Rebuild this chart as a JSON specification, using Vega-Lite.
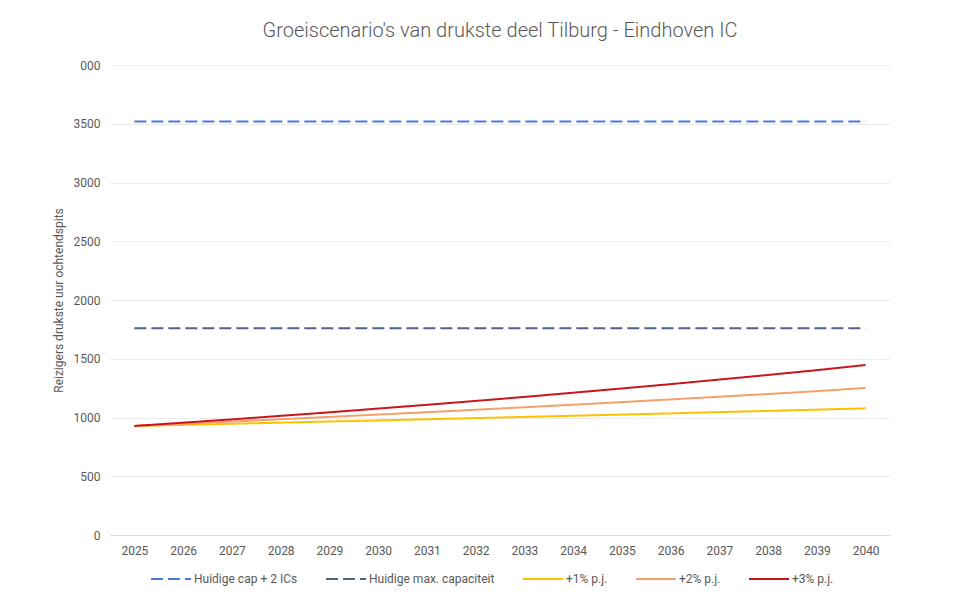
{
  "$schema": "https://vega.github.io/schema/vega-lite/v6.json",
  "width": 780,
  "height": 470,
  "autosize": {"type": "none"},
  "padding": {"left": 110, "top": 65, "right": 78, "bottom": 63},
  "background": "white",
  "config": {
    "font": "Roboto",
    "view": {"stroke": null},
    "axis": {"labelColor": "#595959", "labelFontSize": 12, "titleColor": "#595959", "labelFont": "Roboto"}
  },
  "title": {
    "text": "Groeiscenario's van drukste deel Tilburg - Eindhoven IC",
    "fontSize": 20,
    "fontWeight": 300,
    "color": "#595959",
    "anchor": "middle",
    "offset": 18
  },
  "datasets": {
    "d": [
      {"jaar": "2025", "serie": "Huidige cap + 2 ICs", "waarde": 3520},
      {"jaar": "2026", "serie": "Huidige cap + 2 ICs", "waarde": 3520},
      {"jaar": "2027", "serie": "Huidige cap + 2 ICs", "waarde": 3520},
      {"jaar": "2028", "serie": "Huidige cap + 2 ICs", "waarde": 3520},
      {"jaar": "2029", "serie": "Huidige cap + 2 ICs", "waarde": 3520},
      {"jaar": "2030", "serie": "Huidige cap + 2 ICs", "waarde": 3520},
      {"jaar": "2031", "serie": "Huidige cap + 2 ICs", "waarde": 3520},
      {"jaar": "2032", "serie": "Huidige cap + 2 ICs", "waarde": 3520},
      {"jaar": "2033", "serie": "Huidige cap + 2 ICs", "waarde": 3520},
      {"jaar": "2034", "serie": "Huidige cap + 2 ICs", "waarde": 3520},
      {"jaar": "2035", "serie": "Huidige cap + 2 ICs", "waarde": 3520},
      {"jaar": "2036", "serie": "Huidige cap + 2 ICs", "waarde": 3520},
      {"jaar": "2037", "serie": "Huidige cap + 2 ICs", "waarde": 3520},
      {"jaar": "2038", "serie": "Huidige cap + 2 ICs", "waarde": 3520},
      {"jaar": "2039", "serie": "Huidige cap + 2 ICs", "waarde": 3520},
      {"jaar": "2040", "serie": "Huidige cap + 2 ICs", "waarde": 3520},
      {"jaar": "2025", "serie": "Huidige max. capaciteit", "waarde": 1760},
      {"jaar": "2026", "serie": "Huidige max. capaciteit", "waarde": 1760},
      {"jaar": "2027", "serie": "Huidige max. capaciteit", "waarde": 1760},
      {"jaar": "2028", "serie": "Huidige max. capaciteit", "waarde": 1760},
      {"jaar": "2029", "serie": "Huidige max. capaciteit", "waarde": 1760},
      {"jaar": "2030", "serie": "Huidige max. capaciteit", "waarde": 1760},
      {"jaar": "2031", "serie": "Huidige max. capaciteit", "waarde": 1760},
      {"jaar": "2032", "serie": "Huidige max. capaciteit", "waarde": 1760},
      {"jaar": "2033", "serie": "Huidige max. capaciteit", "waarde": 1760},
      {"jaar": "2034", "serie": "Huidige max. capaciteit", "waarde": 1760},
      {"jaar": "2035", "serie": "Huidige max. capaciteit", "waarde": 1760},
      {"jaar": "2036", "serie": "Huidige max. capaciteit", "waarde": 1760},
      {"jaar": "2037", "serie": "Huidige max. capaciteit", "waarde": 1760},
      {"jaar": "2038", "serie": "Huidige max. capaciteit", "waarde": 1760},
      {"jaar": "2039", "serie": "Huidige max. capaciteit", "waarde": 1760},
      {"jaar": "2040", "serie": "Huidige max. capaciteit", "waarde": 1760},
      {"jaar": "2025", "serie": "+1% p.j.", "waarde": 928},
      {"jaar": "2026", "serie": "+1% p.j.", "waarde": 937},
      {"jaar": "2027", "serie": "+1% p.j.", "waarde": 947},
      {"jaar": "2028", "serie": "+1% p.j.", "waarde": 956},
      {"jaar": "2029", "serie": "+1% p.j.", "waarde": 966},
      {"jaar": "2030", "serie": "+1% p.j.", "waarde": 975},
      {"jaar": "2031", "serie": "+1% p.j.", "waarde": 985},
      {"jaar": "2032", "serie": "+1% p.j.", "waarde": 995},
      {"jaar": "2033", "serie": "+1% p.j.", "waarde": 1005},
      {"jaar": "2034", "serie": "+1% p.j.", "waarde": 1015},
      {"jaar": "2035", "serie": "+1% p.j.", "waarde": 1025},
      {"jaar": "2036", "serie": "+1% p.j.", "waarde": 1035},
      {"jaar": "2037", "serie": "+1% p.j.", "waarde": 1046},
      {"jaar": "2038", "serie": "+1% p.j.", "waarde": 1056},
      {"jaar": "2039", "serie": "+1% p.j.", "waarde": 1067},
      {"jaar": "2040", "serie": "+1% p.j.", "waarde": 1078},
      {"jaar": "2025", "serie": "+2% p.j.", "waarde": 928},
      {"jaar": "2026", "serie": "+2% p.j.", "waarde": 947},
      {"jaar": "2027", "serie": "+2% p.j.", "waarde": 966},
      {"jaar": "2028", "serie": "+2% p.j.", "waarde": 985},
      {"jaar": "2029", "serie": "+2% p.j.", "waarde": 1005},
      {"jaar": "2030", "serie": "+2% p.j.", "waarde": 1025},
      {"jaar": "2031", "serie": "+2% p.j.", "waarde": 1045},
      {"jaar": "2032", "serie": "+2% p.j.", "waarde": 1066},
      {"jaar": "2033", "serie": "+2% p.j.", "waarde": 1087},
      {"jaar": "2034", "serie": "+2% p.j.", "waarde": 1109},
      {"jaar": "2035", "serie": "+2% p.j.", "waarde": 1131},
      {"jaar": "2036", "serie": "+2% p.j.", "waarde": 1154},
      {"jaar": "2037", "serie": "+2% p.j.", "waarde": 1177},
      {"jaar": "2038", "serie": "+2% p.j.", "waarde": 1200},
      {"jaar": "2039", "serie": "+2% p.j.", "waarde": 1224},
      {"jaar": "2040", "serie": "+2% p.j.", "waarde": 1252},
      {"jaar": "2025", "serie": "+3% p.j.", "waarde": 928},
      {"jaar": "2026", "serie": "+3% p.j.", "waarde": 956},
      {"jaar": "2027", "serie": "+3% p.j.", "waarde": 984},
      {"jaar": "2028", "serie": "+3% p.j.", "waarde": 1014},
      {"jaar": "2029", "serie": "+3% p.j.", "waarde": 1044},
      {"jaar": "2030", "serie": "+3% p.j.", "waarde": 1076},
      {"jaar": "2031", "serie": "+3% p.j.", "waarde": 1108},
      {"jaar": "2032", "serie": "+3% p.j.", "waarde": 1141},
      {"jaar": "2033", "serie": "+3% p.j.", "waarde": 1175},
      {"jaar": "2034", "serie": "+3% p.j.", "waarde": 1211},
      {"jaar": "2035", "serie": "+3% p.j.", "waarde": 1247},
      {"jaar": "2036", "serie": "+3% p.j.", "waarde": 1284},
      {"jaar": "2037", "serie": "+3% p.j.", "waarde": 1323},
      {"jaar": "2038", "serie": "+3% p.j.", "waarde": 1362},
      {"jaar": "2039", "serie": "+3% p.j.", "waarde": 1403},
      {"jaar": "2040", "serie": "+3% p.j.", "waarde": 1447}
    ]
  },
  "data": {"name": "d"},
  "mark": {"type": "line", "strokeWidth": 2},
  "encoding": {
    "x": {
      "field": "jaar",
      "type": "ordinal",
      "title": null,
      "axis": {
        "labelAngle": 0,
        "ticks": false,
        "domainColor": "#d9d9d9",
        "grid": false,
        "labelPadding": 10
      }
    },
    "y": {
      "field": "waarde",
      "type": "quantitative",
      "scale": {"domain": [0, 4000], "nice": false},
      "title": "Reizigers drukste uur ochtendspits",
      "axis": {
        "values": [0, 500, 1000, 1500, 2000, 2500, 3000, 3500, 4000],
        "format": "d",
        "labelExpr": "datum.value == 4000 ? '000' : datum.label",
        "domain": false,
        "ticks": false,
        "gridColor": "#ececec",
        "labelPadding": 10,
        "titleFontSize": 12,
        "titleFontWeight": "normal",
        "titlePadding": 8
      }
    },
    "color": {
      "field": "serie",
      "type": "nominal",
      "sort": null,
      "title": null,
      "scale": {
        "domain": ["Huidige cap + 2 ICs", "Huidige max. capaciteit", "+1% p.j.", "+2% p.j.", "+3% p.j."],
        "range": ["#4a7bd4", "#4f6390", "#ffc000", "#f4a06a", "#c8161d"]
      },
      "legend": {
        "orient": "none",
        "legendX": 40,
        "legendY": 493,
        "direction": "horizontal",
        "symbolType": "stroke",
        "symbolSize": 1600,
        "symbolStrokeWidth": 2,
        "labelFontSize": 12,
        "labelColor": "#595959",
        "labelOffset": 2,
        "columnPadding": 24
      }
    },
    "strokeDash": {
      "field": "serie",
      "type": "nominal",
      "sort": null,
      "title": null,
      "scale": {
        "domain": ["Huidige cap + 2 ICs", "Huidige max. capaciteit", "+1% p.j.", "+2% p.j.", "+3% p.j."],
        "range": [[12, 5], [12, 5], [1, 0], [1, 0], [1, 0]]
      }
    }
  }
}
